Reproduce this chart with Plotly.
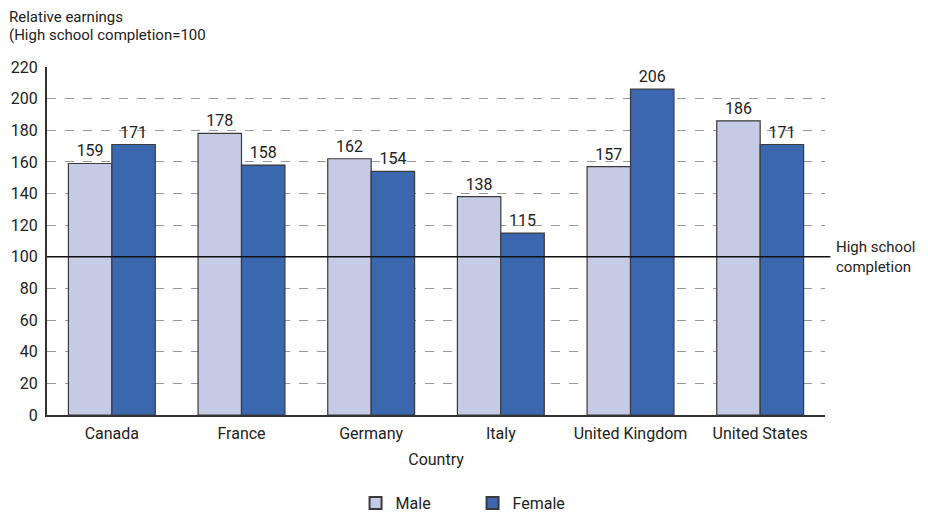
import plotly.graph_objects as go

countries = ["Canada", "France", "Germany", "Italy", "United Kingdom", "United States"]
male = [159, 178, 162, 138, 157, 186]
female = [171, 158, 154, 115, 206, 171]
y_ticks = [0, 20, 40, 60, 80, 100, 120, 140, 160, 180, 200, 220]
reference_value = 100

FONT = "Roboto"
fig = go.Figure()
fig.add_trace(go.Bar(x=countries, y=male, name="Male", marker=dict(color="#c5cbe5", line=dict(color="#3a3a3a", width=1.2)),
                     text=male, textposition="outside", textfont=dict(size=16, color="#222"), cliponaxis=False))
fig.add_trace(go.Bar(x=countries, y=female, name="Female", marker=dict(color="#3a67ae", line=dict(color="#3a3a3a", width=1.2)),
                     text=female, textposition="outside", textfont=dict(size=16, color="#222"), cliponaxis=False))

fig.add_shape(type="line", xref="paper", yref="y", x0=0, x1=1.007, y0=reference_value, y1=reference_value,
              line=dict(color="#111", width=1.5), layer="above")
fig.add_annotation(xref="paper", yref="y", x=1.012, y=reference_value, text="High school<br>completion",
                   showarrow=False, xanchor="left", yanchor="middle", align="left",
                   font=dict(size=15, color="#222", family=FONT))
fig.add_annotation(xref="paper", yref="paper", x=-0.052, y=1.1437, text="Relative earnings",
                   showarrow=False, xanchor="left", yanchor="middle", align="left",
                   font=dict(size=15, color="#222", family=FONT))
fig.add_annotation(xref="paper", yref="paper", x=-0.052, y=1.092, text="(High school completion=100",
                   showarrow=False, xanchor="left", yanchor="middle", align="left",
                   font=dict(size=15, color="#222", family=FONT))

fig.update_layout(
    width=920, height=505,
    margin=dict(l=39, r=103, t=59, b=98, autoexpand=False),
    paper_bgcolor="white", plot_bgcolor="white",
    font=dict(family=FONT, size=16, color="#222"),
    barmode="group", bargap=0.33, bargroupgap=0,
    legend=dict(orientation="h", x=0.547, xanchor="center", y=-0.253, yanchor="middle",
                font=dict(size=16), itemsizing="constant", traceorder="normal",
                entrywidth=72, entrywidthmode="pixels"),
    xaxis=dict(title=dict(text="Country", font=dict(size=16), standoff=12), showline=True, linecolor="#333", linewidth=2,
               ticks="", tickfont=dict(size=16), automargin=False, ticklabelstandoff=3),
    yaxis=dict(range=[0, 220], tickvals=y_ticks, showline=True, linecolor="#333", linewidth=2,
               showgrid=True, gridcolor="#999", griddash="dash", gridwidth=1, zeroline=False,
               ticks="", tickfont=dict(size=16), automargin=False, ticklabelstandoff=4),
)
fig.write_html("out.html")
